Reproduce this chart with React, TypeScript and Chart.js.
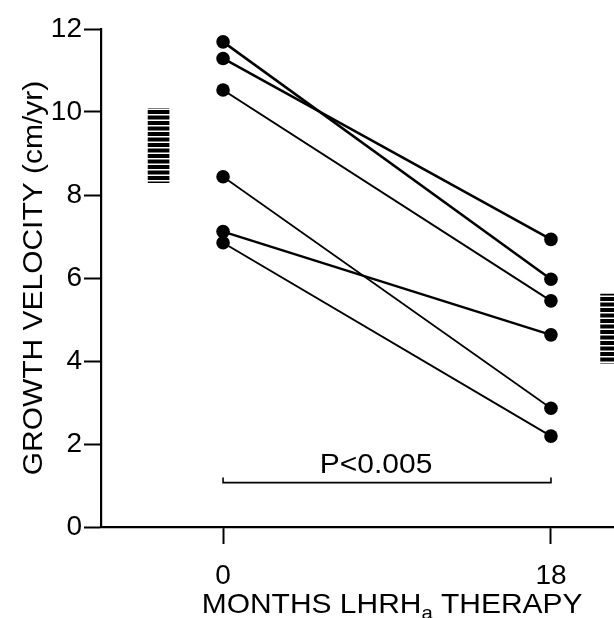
import React, { useEffect, useRef } from 'react';
import { Chart, registerables } from 'chart.js';

Chart.register(...registerables);

// ---- data ----
const MONTHS = [0, 18];
const BASELINE_GV = [11.69, 11.29, 10.53, 8.44, 7.12, 6.85];
const MONTH18_GV = [5.97, 6.93, 5.45, 2.86, 4.63, 2.19];
const LINE_WIDTHS = [2.5, 2.5, 2.0, 1.7, 2.4, 1.9];

const NORMAL_X = [-3.54, 21.3];
const NORMAL_LOW = [8.3, 3.95];
const NORMAL_HIGH = [10.09, 5.61];

const Y_TICKS = [0, 2, 4, 6, 8, 10, 12];
const X_TICKS = [0, 18];

const BRACKET_X = [0, 0, 18, 18];
const BRACKET_Y = [1.19, 1.07, 1.07, 1.19];
const P_LABEL = 'P<0.005';
const P_LABEL_X = 8.4;
const P_LABEL_Y = 1.3;

const Y_TITLE = 'GROWTH VELOCITY (cm/yr)';
const X_TITLE_MAIN = 'MONTHS LHRH';
const X_TITLE_SUB = 'a';
const X_TITLE_END = ' THERAPY';
const X_TITLE_CENTER = 9.28;

const FONT = '"Liberation Sans", Arial, Helvetica, sans-serif';
const STRETCH = 1.07;

function makeStripes(): CanvasPattern | string {
  const c = document.createElement('canvas');
  c.width = 4;
  c.height = 11;
  const g = c.getContext('2d');
  if (!g) return '#000';
  g.fillStyle = '#fff';
  g.fillRect(0, 0, 4, 11);
  g.fillStyle = '#000';
  g.fillRect(0, 0, 4, 4);
  g.fillRect(0, 5.5, 4, 4);
  const p = g.createPattern(c, 'repeat');
  return p || '#000';
}

const textPlugin = {
  id: 'textPlugin',
  afterDatasetsDraw(chart: any) {
    const { ctx, chartArea } = chart;
    const xs = chart.scales.x;
    const ys = chart.scales.y;
    ctx.save();
    ctx.fillStyle = '#000';

    // P label
    ctx.font = `28px ${FONT}`;
    ctx.textBaseline = 'alphabetic';
    ctx.textAlign = 'center';
    ctx.save();
    ctx.translate(xs.getPixelForValue(P_LABEL_X), ys.getPixelForValue(P_LABEL_Y));
    ctx.scale(STRETCH, 1);
    ctx.fillText(P_LABEL, 0, 0);
    ctx.restore();

    // y title
    ctx.save();
    ctx.translate(32, (chartArea.top + chartArea.bottom) / 2);
    ctx.rotate(-Math.PI / 2);
    ctx.scale(STRETCH, 1);
    ctx.textAlign = 'center';
    ctx.font = `28px ${FONT}`;
    ctx.fillText(Y_TITLE, 0, 10);
    ctx.restore();

    // x title with subscript
    ctx.save();
    ctx.textAlign = 'left';
    const big = `28px ${FONT}`;
    const small = `19px ${FONT}`;
    ctx.font = big;
    const w1 = ctx.measureText(X_TITLE_MAIN).width;
    const w3 = ctx.measureText(X_TITLE_END).width;
    ctx.font = small;
    const w2 = ctx.measureText(X_TITLE_SUB).width;
    const total = (w1 + w2 + w3) * STRETCH;
    const cx = xs.getPixelForValue(X_TITLE_CENTER);
    const baseY = chartArea.bottom + 86;
    ctx.translate(cx - total / 2, baseY);
    ctx.scale(STRETCH, 1);
    ctx.font = big;
    ctx.fillText(X_TITLE_MAIN, 0, 0);
    ctx.font = small;
    ctx.fillText(X_TITLE_SUB, w1, 6);
    ctx.font = big;
    ctx.fillText(X_TITLE_END, w1 + w2, 0);
    ctx.restore();

    ctx.restore();
  },
};

export default function App() {
  const ref = useRef<HTMLCanvasElement | null>(null);

  useEffect(() => {
    if (!ref.current) return;
    const stripes = makeStripes();

    const normalSet: any = {
      type: 'bar',
      data: NORMAL_X.map((x, i) => ({ x, y: [NORMAL_LOW[i], NORMAL_HIGH[i]] })),
      backgroundColor: stripes,
      borderWidth: 0,
      barThickness: 21,
      order: 3,
    };

    const subjectSets: any[] = BASELINE_GV.map((v, i) => ({
      type: 'line',
      data: [
        { x: MONTHS[0], y: v },
        { x: MONTHS[1], y: MONTH18_GV[i] },
      ],
      borderColor: '#000',
      backgroundColor: '#000',
      borderWidth: LINE_WIDTHS[i],
      pointRadius: 6.8,
      pointBackgroundColor: '#000',
      pointBorderWidth: 0,
      pointHoverRadius: 6.8,
      tension: 0,
      fill: false,
      order: 1,
    }));

    const bracketSet: any = {
      type: 'line',
      data: BRACKET_X.map((x, i) => ({ x, y: BRACKET_Y[i] })),
      borderColor: '#000',
      borderWidth: 1.6,
      pointRadius: 0,
      tension: 0,
      fill: false,
      order: 2,
    };

    const tickFont = { family: FONT, size: 28 };

    const chart = new Chart(ref.current, {
      type: 'line',
      data: { datasets: [normalSet, bracketSet, ...subjectSets] },
      options: {
        animation: false,
        responsive: false,
        events: [],
        layout: { autoPadding: false, padding: { top: 29, left: 0, right: 0, bottom: 0 } },
        plugins: {
          legend: { display: false },
          tooltip: { enabled: false },
          title: { display: false },
        },
        scales: {
          x: {
            type: 'linear',
            min: -6.7,
            max: 21.46,
            offset: false,
            afterBuildTicks: (s: any) => {
              s.ticks = X_TICKS.map((v) => ({ value: v }));
            },
            afterFit: (s: any) => {
              s.height = 91;
              s.paddingLeft = 0;
              s.paddingRight = 0;
            },
            grid: {
              display: true,
              offset: false,
              drawOnChartArea: false,
              drawTicks: true,
              tickLength: 17,
              tickWidth: 2,
              tickColor: '#000',
            },
            border: { display: true, color: '#000', width: 2.2 },
            ticks: {
              color: '#000',
              font: tickFont,
              padding: 15,
              maxRotation: 0,
              autoSkip: false,
              callback: (v: any) => String(v),
            },
          },
          y: {
            type: 'linear',
            min: 0,
            max: 12,
            afterBuildTicks: (s: any) => {
              s.ticks = Y_TICKS.map((v) => ({ value: v }));
            },
            afterFit: (s: any) => {
              s.width = 101;
            },
            grid: {
              display: true,
              offset: false,
              drawOnChartArea: false,
              drawTicks: true,
              tickLength: 17,
              tickWidth: 2,
              tickColor: '#000',
            },
            border: { display: true, color: '#000', width: 2.2 },
            ticks: {
              color: '#000',
              font: tickFont,
              padding: 2,
              autoSkip: false,
              callback: (v: any) => String(v),
            },
          },
        },
      } as any,
      plugins: [textPlugin],
    });

    return () => chart.destroy();
  }, []);

  return (
    <div style={{ position: 'fixed', left: 0, top: 0, width: 614, height: 618, background: '#fff' }}>
      <canvas ref={ref} width={614} height={618} style={{ display: 'block', width: 614, height: 618 }} />
    </div>
  );
}
